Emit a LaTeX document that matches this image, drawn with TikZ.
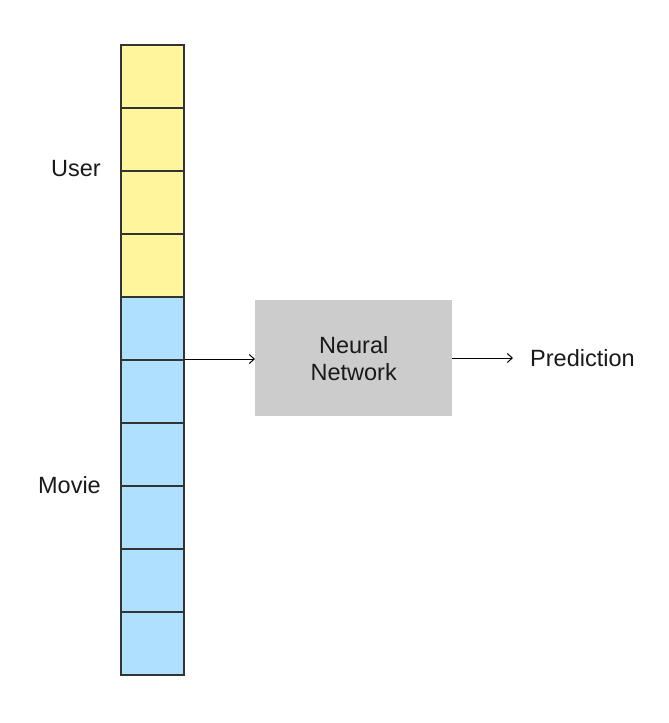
\documentclass[tikz,border=0pt]{standalone}
\usepackage{fontspec}
\setmainfont{Liberation Sans}
\usetikzlibrary{arrows.meta}
\definecolor{cellyellow}{HTML}{FFF59D}
\definecolor{cellblue}{HTML}{B0E0FF}
\definecolor{boxgray}{HTML}{CCCCCC}
\definecolor{edge}{HTML}{333333}
\begin{document}
\begin{tikzpicture}[x=1pt,y=-1pt,
  cell/.style={draw=edge,line width=1.6pt,minimum width=63pt,minimum height=63pt,inner sep=0pt,anchor=north west},
  ucell/.style={cell,fill=cellyellow},
  mcell/.style={cell,fill=cellblue},
  lbl/.style={font=\fontsize{23.5}{27}\selectfont,text=black!90},
  conn/.style={line width=1pt,-{Straight Barb[length=5pt,width=9pt]}}]
\useasboundingbox (0,0) rectangle (669,723);
\foreach \i in {0,...,3} {\node[ucell] (u\i) at (120,44+63*\i) {};}
\foreach \i in {0,...,5} {\node[mcell] (m\i) at (120,296+63*\i) {};}
\node[fill=boxgray,minimum width=197pt,minimum height=116pt,inner sep=0pt,anchor=north west,align=center,lbl] (nn) at (255,300) {Neural\\Network};
\node[lbl,anchor=east,inner sep=0pt] (user) at (101,169) {User};
\node[lbl,anchor=east,inner sep=0pt] (movie) at (101,485) {Movie};
\node[lbl,anchor=west,inner sep=0pt] (pred) at (530,358) {Prediction};
\coordinate (pend) at (513,358);
\draw[conn] (m1.north east) -- (nn.west |- m1.north east);
\draw[conn] (nn.east |- pend) -- (pend);
\end{tikzpicture}
\end{document}
